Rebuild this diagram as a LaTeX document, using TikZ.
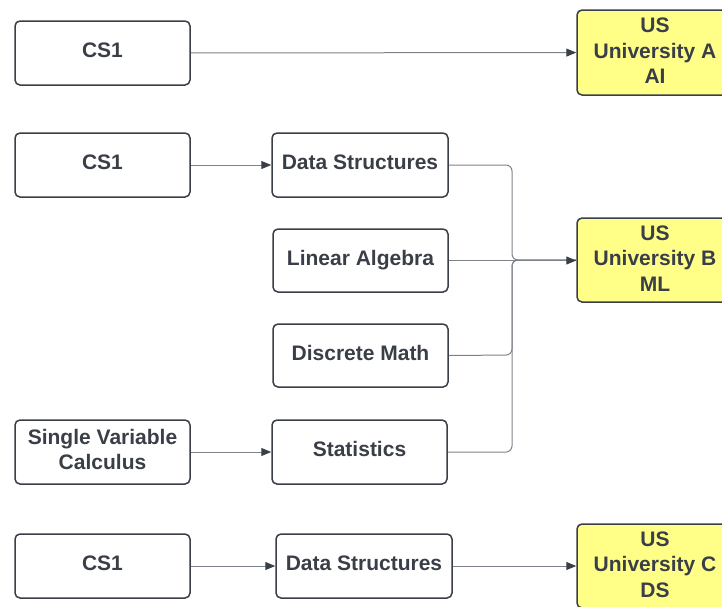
\documentclass[tikz,border=0pt]{standalone}
\usepackage{fontspec}
\setmainfont{Liberation Sans}
\usetikzlibrary{arrows.meta}

\definecolor{ink}{HTML}{3A3E47}
\definecolor{wire}{HTML}{7E828A}
\definecolor{uni}{HTML}{FFFF88}
\newcommand{\boxtail}{9pt}

\begin{document}
\begin{tikzpicture}[x=1pt, y=-1pt,
		box/.style={draw=ink, line width=1.5pt, rounded corners=5pt, minimum width=175pt, minimum height=64pt,
			inner sep=0pt, align=center, text=ink, font=\fontsize{21}{25.5}\selectfont\bfseries,
			execute at begin node={\rule{0pt}{18pt}}, execute at end node={\rule[-\boxtail]{0pt}{\boxtail}}},
		twoline/.style={box, /utils/exec={\def\boxtail{5pt}}},
		goal/.style={box, fill=uni, minimum width=156pt, minimum height=85pt, /utils/exec={\def\boxtail{3pt}}},
		link/.style={draw=wire, line width=1pt, -{Triangle[length=10pt, width=8pt, color=ink]}},
		merge/.style={draw=wire, line width=1pt, rounded corners=6pt}]
		\useasboundingbox (0,0) rectangle (722,606);
		\clip (0,0) rectangle (722,606);
		% first path
		\node[box]  (cs1a)  at (102.5, 53)   {CS1};
		\node[goal] (uniA)  at (655, 52.5)   {US\\University A\\AI};
		% second path
		\node[box]  (cs1b)  at (102.5,165)   {CS1};
		\node[box, minimum width=176pt] (dsb) at (360,165) {Data Structures};
		\node[box, minimum height=63pt] (lin) at (360.5,260.5) {Linear Algebra};
		\node[box, minimum height=63pt] (dis) at (360.5,355.5) {Discrete Math};
		\node[twoline] (svc) at (102.5,452)  {Single Variable\\Calculus};
		\node[box]  (stat)  at (359.5,452)   {Statistics};
		\node[goal, minimum height=84pt] (uniB) at (655,260) {US\\University B\\ML};
		% third path
		\node[box]  (cs1c)  at (102.5,566)   {CS1};
		\node[box, minimum width=176pt] (dsc) at (364,566) {Data Structures};
		\node[goal, minimum height=84pt] (uniC) at (655,566) {US\\University C\\DS};

		\draw[link] (cs1a) -- (uniA);
		\draw[link] (cs1b) -- (dsb);
		\draw[link] (svc) -- (stat);
		\draw[link] (cs1c) -- (dsc);
		\draw[link] (dsc) -- (uniC);
		\draw[merge] (dsb.east) -- (512,165) -- (512,260) -- (uniB.west);
		\draw[merge] (dis.east) -- (512,355) -- (512,260) -- (uniB.west);
		\draw[merge] (stat.east) -- (512,452) -- (512,260) -- (uniB.west);
		\draw[link] (lin.east) -- (lin.east -| uniB.west);
	\end{tikzpicture}
\end{document}
